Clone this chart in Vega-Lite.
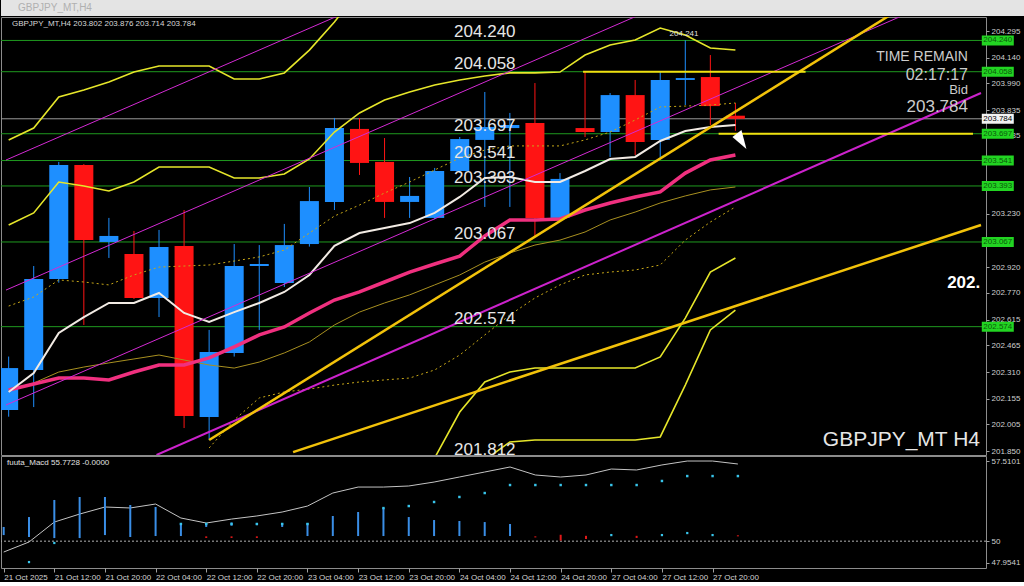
{
  "$schema": "https://vega.github.io/schema/vega-lite/v6.json",
  "background": "#000000",
  "padding": 0,
  "spacing": 1,
  "bounds": "flush",
  "config": {
    "view": {"stroke": "#8c8c8c", "strokeWidth": 1},
    "axis": {"grid": false, "domain": false, "labelColor": "#cfcfcf", "tickColor": "#a0a0a0", "labelFont": "Liberation Sans", "labelFontSize": 8, "labelOverlap": false, "labelBound": false},
    "text": {"font": "Liberation Sans"}
  },
  "datasets": {
    "candles": [
      {"i": 1, "o": 202.089, "h": 202.4, "l": 202.05, "c": 202.333},
      {"i": 2, "o": 202.322, "h": 202.927, "l": 202.106, "c": 202.851},
      {"i": 3, "o": 202.851, "h": 203.533, "l": 202.83, "c": 203.515},
      {"i": 4, "o": 203.515, "h": 203.52, "l": 202.584, "c": 203.078},
      {"i": 5, "o": 203.067, "h": 203.207, "l": 202.974, "c": 203.102},
      {"i": 6, "o": 202.997, "h": 203.131, "l": 202.735, "c": 202.741},
      {"i": 7, "o": 202.741, "h": 203.137, "l": 202.63, "c": 203.038},
      {"i": 8, "o": 203.044, "h": 203.253, "l": 201.984, "c": 202.054},
      {"i": 9, "o": 202.048, "h": 202.555, "l": 201.914, "c": 202.427},
      {"i": 10, "o": 202.421, "h": 203.055, "l": 202.4, "c": 202.927},
      {"i": 11, "o": 202.927, "h": 203.049, "l": 202.555, "c": 202.939},
      {"i": 12, "o": 202.828, "h": 203.172, "l": 202.805, "c": 203.049},
      {"i": 13, "o": 203.055, "h": 203.387, "l": 203.04, "c": 203.305},
      {"i": 14, "o": 203.3, "h": 203.789, "l": 203.253, "c": 203.73},
      {"i": 15, "o": 203.725, "h": 203.789, "l": 203.457, "c": 203.527},
      {"i": 16, "o": 203.533, "h": 203.672, "l": 203.207, "c": 203.3},
      {"i": 17, "o": 203.3, "h": 203.445, "l": 203.207, "c": 203.335},
      {"i": 18, "o": 203.207, "h": 203.498, "l": 203.2, "c": 203.48},
      {"i": 19, "o": 203.48, "h": 203.678, "l": 203.469, "c": 203.666},
      {"i": 20, "o": 203.661, "h": 203.94, "l": 203.271, "c": 203.736},
      {"i": 21, "o": 203.73, "h": 203.818, "l": 203.271, "c": 203.748},
      {"i": 22, "o": 203.76, "h": 203.992, "l": 203.096, "c": 203.207},
      {"i": 23, "o": 203.207, "h": 203.468, "l": 203.2, "c": 203.434},
      {"i": 24, "o": 203.73, "h": 204.056, "l": 203.678, "c": 203.707},
      {"i": 25, "o": 203.707, "h": 203.934, "l": 203.562, "c": 203.922},
      {"i": 26, "o": 203.922, "h": 204.01, "l": 203.573, "c": 203.649},
      {"i": 27, "o": 203.661, "h": 204.056, "l": 203.556, "c": 204.01},
      {"i": 28, "o": 204.01, "h": 204.241, "l": 203.864, "c": 204.021},
      {"i": 29, "o": 204.027, "h": 204.155, "l": 203.748, "c": 203.858},
      {"i": 30, "o": 203.802, "h": 203.876, "l": 203.714, "c": 203.784}
    ],
    "ma": [
      {"i": 1, "u2": 203.661, "u1": 203.166, "dm": 202.694, "w": 202.194, "pk": 202.205, "ol": 202.205},
      {"i": 2, "u2": 203.73, "u1": 203.236, "dm": 202.747, "w": 202.304, "pk": 202.24, "ol": 202.246},
      {"i": 3, "u2": 203.911, "u1": 203.416, "dm": 202.846, "w": 202.537, "pk": 202.275, "ol": 202.31},
      {"i": 4, "u2": 203.952, "u1": 203.393, "dm": 202.834, "w": 202.63, "pk": 202.275, "ol": 202.339},
      {"i": 5, "u2": 203.998, "u1": 203.364, "dm": 202.817, "w": 202.712, "pk": 202.264, "ol": 202.363},
      {"i": 6, "u2": 204.056, "u1": 203.416, "dm": 202.875, "w": 202.712, "pk": 202.31, "ol": 202.386},
      {"i": 7, "u2": 204.091, "u1": 203.503, "dm": 202.921, "w": 202.77, "pk": 202.351, "ol": 202.409},
      {"i": 8, "u2": 204.091, "u1": 203.503, "dm": 202.927, "w": 202.654, "pk": 202.351, "ol": 202.38},
      {"i": 9, "u2": 204.091, "u1": 203.503, "dm": 202.933, "w": 202.601, "pk": 202.392, "ol": 202.351, "dl": 201.868},
      {"i": 10, "u2": 204.016, "u1": 203.439, "dm": 202.956, "w": 202.659, "pk": 202.456, "ol": 202.333, "dl": 202.031},
      {"i": 11, "u2": 204.016, "u1": 203.439, "dm": 202.98, "w": 202.712, "pk": 202.526, "ol": 202.368, "dl": 202.159},
      {"i": 12, "u2": 204.051, "u1": 203.463, "dm": 203.02, "w": 202.776, "pk": 202.572, "ol": 202.421, "dl": 202.194},
      {"i": 13, "u2": 204.184, "u1": 203.55, "dm": 203.119, "w": 202.875, "pk": 202.654, "ol": 202.485, "dl": 202.211},
      {"i": 14, "u2": 204.347, "u1": 203.707, "dm": 203.218, "w": 203.044, "pk": 202.729, "ol": 202.584, "dl": 202.234},
      {"i": 15, "u2": 204.534, "u1": 203.818, "dm": 203.282, "w": 203.119, "pk": 202.776, "ol": 202.659, "dl": 202.252},
      {"i": 16, "u1": 203.893, "dm": 203.352, "w": 203.148, "pk": 202.834, "ol": 202.712, "dl": 202.264},
      {"i": 17, "u1": 203.94, "dm": 203.416, "w": 203.177, "pk": 202.892, "ol": 202.759, "dl": 202.275},
      {"i": 18, "u1": 203.981, "dm": 203.486, "w": 203.236, "pk": 202.939, "ol": 202.817, "dl": 202.322, "l1": 201.81},
      {"i": 19, "u1": 204.01, "dm": 203.556, "w": 203.329, "pk": 202.985, "ol": 202.875, "dl": 202.409, "l1": 202.077},
      {"i": 20, "u1": 204.033, "dm": 203.602, "w": 203.439, "pk": 203.102, "ol": 202.95, "dl": 202.526, "l1": 202.252, "l2": 201.798},
      {"i": 21, "u1": 204.051, "dm": 203.626, "w": 203.445, "pk": 203.195, "ol": 203.003, "dl": 202.642, "l1": 202.31, "l2": 201.903},
      {"i": 22, "u1": 204.051, "dm": 203.626, "w": 203.416, "pk": 203.195, "ol": 203.049, "dl": 202.741, "l1": 202.333, "l2": 201.914},
      {"i": 23, "u1": 204.056, "dm": 203.626, "w": 203.416, "pk": 203.201, "ol": 203.078, "dl": 202.817, "l1": 202.333, "l2": 201.914},
      {"i": 24, "u1": 204.155, "dm": 203.661, "w": 203.48, "pk": 203.253, "ol": 203.125, "dl": 202.875, "l1": 202.333, "l2": 201.914},
      {"i": 25, "u1": 204.214, "dm": 203.707, "w": 203.55, "pk": 203.294, "ol": 203.195, "dl": 202.892, "l1": 202.333, "l2": 201.914},
      {"i": 26, "u1": 204.243, "dm": 203.777, "w": 203.562, "pk": 203.329, "ol": 203.241, "dl": 202.904, "l1": 202.333, "l2": 201.914},
      {"i": 27, "u1": 204.312, "dm": 203.853, "w": 203.655, "pk": 203.358, "ol": 203.294, "dl": 202.933, "l1": 202.398, "l2": 201.932},
      {"i": 28, "u1": 204.272, "dm": 203.858, "w": 203.713, "pk": 203.468, "ol": 203.335, "dl": 203.078, "l1": 202.624, "l2": 202.234},
      {"i": 29, "u1": 204.196, "dm": 203.864, "w": 203.736, "pk": 203.544, "ol": 203.37, "dl": 203.183, "l1": 202.892, "l2": 202.555},
      {"i": 30, "u1": 204.184, "dm": 203.876, "w": 203.748, "pk": 203.573, "ol": 203.387, "dl": 203.271, "l1": 202.974, "l2": 202.671}
    ],
    "levels": [
      {"p": 204.24, "lab": "204.240"},
      {"p": 204.058, "lab": "204.058"},
      {"p": 203.697, "lab": "203.697"},
      {"p": 203.541, "lab": "203.541"},
      {"p": 203.393, "lab": "203.393"},
      {"p": 203.067, "lab": "203.067"},
      {"p": 202.574, "lab": "202.574"},
      {"p": 201.812, "lab": "201.812"}
    ],
    "trend": [
      {"k": "m1", "i": 0.894, "p": 203.544}, {"k": "m1", "i": 39.8, "p": 206.009},
      {"k": "m2", "i": 0.894, "p": 202.787}, {"k": "m2", "i": 39.8, "p": 205.253},
      {"k": "m3", "i": 0.894, "p": 202.118}, {"k": "m3", "i": 39.8, "p": 204.583},
      {"k": "m4", "i": 6.9, "p": 201.827}, {"k": "m4", "i": 39.8, "p": 203.934},
      {"k": "g1", "i": 9.0, "p": 201.914}, {"k": "g1", "i": 39.8, "p": 204.718},
      {"k": "g2", "i": 12.35, "p": 201.844}, {"k": "g2", "i": 39.8, "p": 203.166}
    ],
    "ysegs": [
      {"i1": 23.92, "i2": 32.8, "p": 204.058},
      {"i1": 29.33, "i2": 39.48, "p": 203.697}
    ],
    "macd": [
      {"i": 1, "ln": 48.98, "ht": 51.33, "hb": 50.57},
      {"i": 2, "ln": 49.92, "ht": 52.26, "hb": 50.39, "lc": 48.04},
      {"i": 3, "ln": 51.79, "ht": 53.86, "hb": 50.29, "lc": 49.83},
      {"i": 4, "ln": 52.54, "ht": 54.14, "hb": 50.29},
      {"i": 5, "ln": 53.2, "ht": 54.14, "hb": 50.57},
      {"i": 6, "ln": 53.11, "ht": 53.39, "hb": 50.39},
      {"i": 7, "ln": 53.48, "ht": 53.2, "hb": 50.48},
      {"i": 8, "ln": 52.17, "ht": 51.7, "hb": 50.48, "ud": 51.61},
      {"i": 9, "ln": 51.7, "ht": 51.7, "hb": 51.33, "ud": 51.61, "rt": 50.45, "rb": 50.3},
      {"i": 10, "ln": 52.07, "ht": 51.75, "hb": 51.45, "ud": 51.61, "rt": 50.45, "rb": 50.3},
      {"i": 11, "ln": 52.36, "ht": 51.7, "hb": 51.5, "ud": 51.61, "rt": 50.45, "rb": 50.3},
      {"i": 12, "ln": 52.73, "ht": 51.7, "hb": 51.33, "ud": 51.61},
      {"i": 13, "ln": 53.29, "ht": 51.7, "hb": 50.48, "ud": 51.61},
      {"i": 14, "ln": 54.51, "ht": 52.36, "hb": 50.48},
      {"i": 15, "ln": 55.07, "ht": 52.73, "hb": 50.48},
      {"i": 16, "ln": 55.07, "ht": 53.1, "hb": 50.48, "ud": 53.1},
      {"i": 17, "ln": 55.17, "ht": 52.26, "hb": 50.48, "ud": 53.29},
      {"i": 18, "ln": 55.54, "ht": 51.98, "hb": 50.48, "ud": 53.67},
      {"i": 19, "ln": 56.01, "ht": 51.89, "hb": 50.48, "ud": 54.14},
      {"i": 20, "ln": 56.48, "ht": 51.79, "hb": 50.48, "ud": 54.51},
      {"i": 21, "ln": 56.95, "ht": 51.61, "hb": 50.48, "ud": 55.26},
      {"i": 22, "ln": 56.2, "ud": 55.26, "rt": 50.45, "rb": 50.35},
      {"i": 23, "ln": 56.01, "ud": 55.26, "rt": 50.6, "rb": 50.05},
      {"i": 24, "ln": 56.2, "ud": 55.26, "rt": 50.5, "rb": 50.2},
      {"i": 25, "ln": 56.76, "ud": 55.26, "lc": 50.57},
      {"i": 26, "ln": 56.67, "ud": 55.26, "rt": 50.5, "rb": 50.3},
      {"i": 27, "ln": 57.14, "ud": 55.64, "lc": 50.57},
      {"i": 28, "ln": 57.51, "ud": 56.1, "lc": 50.76},
      {"i": 29, "ln": 57.51, "ud": 56.1, "lc": 50.57},
      {"i": 30, "ln": 57.23, "ud": 56.1, "rt": 50.55, "rb": 50.45}
    ]
  },
  "vconcat": [
    {
      "width": 1024,
      "height": 16,
      "view": {"fill": "#e4e4e4", "stroke": null},
      "data": {"values": [{}]},
      "mark": {"type": "text", "align": "left", "baseline": "middle", "fontSize": 10, "color": "#b0b0b0"},
      "encoding": {
        "x": {"datum": 17, "type": "quantitative", "scale": {"domain": [0, 1024], "nice": false}, "axis": null},
        "y": {"datum": 0.5, "type": "quantitative", "scale": {"domain": [0, 1]}, "axis": null},
        "text": {"value": "GBPJPY_MT,H4"}
      }
    },
    {
      "width": 985,
      "height": 438,
      "resolve": {"axis": {"x": "independent", "y": "independent"}},
      "layer": [
        {
          "data": {"name": "levels"},
          "mark": {"type": "rule", "color": "#1f9a1f", "strokeWidth": 1, "clip": true},
          "encoding": {
            "y": {"field": "p", "type": "quantitative", "title": null, "scale": {"domain": [201.827, 204.3765], "nice": false, "zero": false},
              "axis": {"orient": "right", "title": null, "values": [204.295, 204.14, 203.99, 203.835, 203.685, 203.23, 202.92, 202.77, 202.615, 202.465, 202.31, 202.155, 202.005, 201.85], "format": ".3f", "labelFontSize": 8, "labelColor": "#cfcfcf", "tickColor": "#a0a0a0", "tickSize": 3, "labelPadding": 2, "labelOverlap": false, "labelBound": false, "labelFlush": false, "domain": false, "grid": false}}
          }
        },
        {
          "data": {"values": [{}]},
          "mark": {"type": "rule", "color": "#9a9a9a", "strokeWidth": 1},
          "encoding": {
            "y": {"datum": 203.784, "type": "quantitative", "axis": null}
          }
        },
        {
          "data": {"name": "candles"},
          "mark": {"type": "rule", "strokeWidth": 1, "clip": true},
          "encoding": {
            "x": {"field": "i", "type": "quantitative", "scale": {"domain": [0.894, 39.8], "nice": false, "zero": false}, "axis": null},
            "y": {"field": "l", "type": "quantitative", "axis": null},
            "y2": {"field": "h"},
            "color": {"condition": {"test": "datum.c >= datum.o", "value": "#1e8fff"}, "value": "#ff1414"}
          }
        },
        {
          "data": {"name": "candles"},
          "mark": {"type": "bar", "size": 19, "minBandSize": 2, "clip": true},
          "encoding": {
            "x": {"field": "i", "type": "quantitative", "axis": null},
            "y": {"field": "o", "type": "quantitative", "axis": null},
            "y2": {"field": "c"},
            "color": {"condition": {"test": "datum.c >= datum.o", "value": "#1e8fff"}, "value": "#ff1414"}
          }
        },
        {
          "data": {"name": "ma"},
          "mark": {"type": "line", "color": "#a89020", "strokeWidth": 1, "clip": true},
          "encoding": {
            "x": {"field": "i", "type": "quantitative", "axis": null},
            "y": {"field": "ol", "type": "quantitative", "axis": null}
          }
        },
        {
          "data": {"name": "ma"},
          "mark": {"type": "line", "color": "#c8a818", "strokeWidth": 1, "strokeDash": [2, 3], "clip": true},
          "encoding": {
            "x": {"field": "i", "type": "quantitative", "axis": null},
            "y": {"field": "dm", "type": "quantitative", "axis": null}
          }
        },
        {
          "data": {"name": "ma"},
          "mark": {"type": "line", "color": "#c8a818", "strokeWidth": 1, "strokeDash": [2, 3], "clip": true},
          "encoding": {
            "x": {"field": "i", "type": "quantitative", "axis": null},
            "y": {"field": "dl", "type": "quantitative", "axis": null}
          }
        },
        {
          "data": {"name": "ma"},
          "mark": {"type": "line", "color": "#e6e62a", "strokeWidth": 1.6, "clip": true},
          "encoding": {
            "x": {"field": "i", "type": "quantitative", "axis": null},
            "y": {"field": "u2", "type": "quantitative", "axis": null}
          }
        },
        {
          "data": {"name": "ma"},
          "mark": {"type": "line", "color": "#e6e62a", "strokeWidth": 1.6, "clip": true},
          "encoding": {
            "x": {"field": "i", "type": "quantitative", "axis": null},
            "y": {"field": "u1", "type": "quantitative", "axis": null}
          }
        },
        {
          "data": {"name": "ma"},
          "mark": {"type": "line", "color": "#e6e62a", "strokeWidth": 1.6, "clip": true},
          "encoding": {
            "x": {"field": "i", "type": "quantitative", "axis": null},
            "y": {"field": "l1", "type": "quantitative", "axis": null}
          }
        },
        {
          "data": {"name": "ma"},
          "mark": {"type": "line", "color": "#e6e62a", "strokeWidth": 1.6, "clip": true},
          "encoding": {
            "x": {"field": "i", "type": "quantitative", "axis": null},
            "y": {"field": "l2", "type": "quantitative", "axis": null}
          }
        },
        {
          "data": {"name": "ma"},
          "mark": {"type": "line", "color": "#f0307f", "strokeWidth": 3.5, "clip": true},
          "encoding": {
            "x": {"field": "i", "type": "quantitative", "axis": null},
            "y": {"field": "pk", "type": "quantitative", "axis": null}
          }
        },
        {
          "data": {"name": "ma"},
          "mark": {"type": "line", "color": "#f2ebe4", "strokeWidth": 2, "clip": true},
          "encoding": {
            "x": {"field": "i", "type": "quantitative", "axis": null},
            "y": {"field": "w", "type": "quantitative", "axis": null}
          }
        },
        {
          "data": {"name": "trend"},
          "transform": [{"filter": "indexof(['m1','m2','m3'], datum.k) >= 0"}],
          "mark": {"type": "line", "color": "#d42ad4", "strokeWidth": 1, "clip": true},
          "encoding": {
            "x": {"field": "i", "type": "quantitative", "axis": null},
            "y": {"field": "p", "type": "quantitative", "axis": null},
            "detail": {"field": "k"}
          }
        },
        {
          "data": {"name": "trend"},
          "transform": [{"filter": "datum.k == 'm4'"}],
          "mark": {"type": "line", "color": "#cc22cc", "strokeWidth": 2, "clip": true},
          "encoding": {
            "x": {"field": "i", "type": "quantitative", "axis": null},
            "y": {"field": "p", "type": "quantitative", "axis": null},
            "detail": {"field": "k"}
          }
        },
        {
          "data": {"name": "trend"},
          "transform": [{"filter": "datum.k == 'g1' || datum.k == 'g2'"}],
          "mark": {"type": "line", "color": "#f2c20a", "strokeWidth": 2.5, "clip": true},
          "encoding": {
            "x": {"field": "i", "type": "quantitative", "axis": null},
            "y": {"field": "p", "type": "quantitative", "axis": null},
            "detail": {"field": "k"}
          }
        },
        {
          "data": {"name": "ysegs"},
          "mark": {"type": "rule", "color": "#f0e010", "strokeWidth": 2, "clip": true},
          "encoding": {
            "x": {"field": "i1", "type": "quantitative", "axis": null},
            "x2": {"field": "i2"},
            "y": {"field": "p", "type": "quantitative", "axis": null}
          }
        },
        {
          "data": {"name": "levels"},
          "mark": {"type": "text", "align": "center", "baseline": "alphabetic", "dy": -3, "fontSize": 17, "color": "#e6e6e6"},
          "encoding": {
            "x": {"datum": 20.0, "type": "quantitative", "axis": null},
            "y": {"field": "p", "type": "quantitative", "axis": null},
            "text": {"field": "lab"}
          }
        },
        {
          "data": {"name": "levels"},
          "transform": [{"filter": "datum.p > 201.83"}],
          "mark": {"type": "point", "shape": "M-1.6,-0.5L1.6,-0.5L1.6,0.5L-1.6,0.5Z", "size": 400, "filled": true, "opacity": 1, "color": "#22d422", "strokeWidth": 0},
          "encoding": {
            "x": {"datum": 40.47, "type": "quantitative", "axis": null},
            "y": {"field": "p", "type": "quantitative", "axis": null}
          }
        },
        {
          "data": {"name": "levels"},
          "transform": [{"filter": "datum.p > 201.83"}],
          "mark": {"type": "text", "align": "center", "baseline": "middle", "fontSize": 8, "color": "#0b5a0b"},
          "encoding": {
            "x": {"datum": 40.47, "type": "quantitative", "axis": null},
            "y": {"field": "p", "type": "quantitative", "axis": null},
            "text": {"field": "lab"}
          }
        },
        {
          "data": {"values": [{}]},
          "mark": {"type": "point", "shape": "M-1.6,-0.5L1.6,-0.5L1.6,0.5L-1.6,0.5Z", "size": 400, "filled": true, "opacity": 1, "color": "#f2f2f2", "strokeWidth": 0},
          "encoding": {
            "x": {"datum": 40.47, "type": "quantitative", "axis": null},
            "y": {"datum": 203.784, "type": "quantitative", "axis": null}
          }
        },
        {
          "data": {"values": [{}]},
          "mark": {"type": "text", "align": "center", "baseline": "middle", "fontSize": 8, "color": "#000000"},
          "encoding": {
            "x": {"datum": 40.47, "type": "quantitative", "axis": null},
            "y": {"datum": 203.784, "type": "quantitative", "axis": null},
            "text": {"value": "203.784"}
          }
        },
        {
          "data": {"values": [{}]},
          "mark": {"type": "point", "shape": "M-0.8,-0.2L0.1,-0.9L0.6,1Z", "size": 400, "filled": true, "opacity": 1, "color": "#ffffff", "strokeWidth": 0},
          "encoding": {
            "x": {"datum": 30.2, "type": "quantitative", "axis": null},
            "y": {"datum": 203.666, "type": "quantitative", "axis": null}
          }
        },
        {
          "data": {"values": [{}]},
          "mark": {"type": "text", "align": "left", "baseline": "middle", "fontSize": 8, "color": "#d8d8d8"},
          "encoding": {
            "x": {"datum": 1.131, "type": "quantitative", "axis": null},
            "y": {"datum": 204.336, "type": "quantitative", "axis": null},
            "text": {"value": "GBPJPY_MT,H4  203.802 203.876 203.714 203.784"}
          }
        },
        {
          "data": {"values": [{}]},
          "mark": {"type": "text", "align": "center", "baseline": "middle", "fontSize": 8, "color": "#e0e0e0"},
          "encoding": {
            "x": {"datum": 27.95, "type": "quantitative", "axis": null},
            "y": {"datum": 204.278, "type": "quantitative", "axis": null},
            "text": {"value": "204.241"}
          }
        },
        {
          "data": {"values": [{}]},
          "mark": {"type": "text", "align": "right", "baseline": "middle", "fontSize": 14, "color": "#cccccc"},
          "encoding": {
            "x": {"datum": 39.28, "type": "quantitative", "axis": null},
            "y": {"datum": 204.144, "type": "quantitative", "axis": null},
            "text": {"value": "TIME REMAIN"}
          }
        },
        {
          "data": {"values": [{}]},
          "mark": {"type": "text", "align": "right", "baseline": "middle", "fontSize": 16, "color": "#cccccc"},
          "encoding": {
            "x": {"datum": 39.28, "type": "quantitative", "axis": null},
            "y": {"datum": 204.039, "type": "quantitative", "axis": null},
            "text": {"value": "02:17:17"}
          }
        },
        {
          "data": {"values": [{}]},
          "mark": {"type": "text", "align": "right", "baseline": "middle", "fontSize": 13, "color": "#cccccc"},
          "encoding": {
            "x": {"datum": 39.28, "type": "quantitative", "axis": null},
            "y": {"datum": 203.952, "type": "quantitative", "axis": null},
            "text": {"value": "Bid"}
          }
        },
        {
          "data": {"values": [{}]},
          "mark": {"type": "text", "align": "right", "baseline": "middle", "fontSize": 17, "color": "#cccccc"},
          "encoding": {
            "x": {"datum": 39.28, "type": "quantitative", "axis": null},
            "y": {"datum": 203.85, "type": "quantitative", "axis": null},
            "text": {"value": "203.784"}
          }
        },
        {
          "data": {"values": [{}]},
          "mark": {"type": "text", "align": "left", "baseline": "middle", "fontSize": 17, "fontWeight": "bold", "color": "#ffffff"},
          "encoding": {
            "x": {"datum": 38.45, "type": "quantitative", "axis": null},
            "y": {"datum": 202.828, "type": "quantitative", "axis": null},
            "text": {"value": "202."}
          }
        },
        {
          "data": {"values": [{}]},
          "mark": {"type": "text", "align": "right", "baseline": "middle", "fontSize": 21, "color": "#e6e6e6"},
          "encoding": {
            "x": {"datum": 39.76, "type": "quantitative", "axis": null},
            "y": {"datum": 201.914, "type": "quantitative", "axis": null},
            "text": {"value": "GBPJPY_MT H4"}
          }
        }
      ]
    },
    {
      "width": 985,
      "height": 112,
      "resolve": {"axis": {"x": "independent", "y": "independent"}},
      "layer": [
        {
          "data": {"values": [{}]},
          "mark": {"type": "rule", "color": "#b4b4b4", "strokeWidth": 1, "strokeDash": [2, 2]},
          "encoding": {
            "y": {"datum": 50, "type": "quantitative", "title": null, "scale": {"domain": [47.485, 57.98], "nice": false, "zero": false},
              "axis": {"orient": "right", "title": null, "values": [57.5101, 50, 47.9541], "labelExpr": "datum.value == 50 ? '50' : format(datum.value, '.4f')", "labelFontSize": 8, "labelColor": "#cfcfcf", "tickColor": "#a0a0a0", "tickSize": 3, "labelPadding": 2, "labelOverlap": false, "labelBound": false, "labelFlush": false, "domain": false, "grid": false}}
          }
        },
        {
          "data": {"name": "macd"},
          "mark": {"type": "line", "color": "#c4c4c4", "strokeWidth": 1},
          "encoding": {
            "x": {"field": "i", "type": "quantitative", "title": null, "scale": {"domain": [0.894, 39.8], "nice": false, "zero": false},
              "axis": {"orient": "bottom", "title": null, "values": [1, 3, 5, 7, 9, 11, 13, 15, 17, 19, 21, 23, 25, 27, 29], "labelExpr": "['','21 Oct 2025','','21 Oct 12:00','','21 Oct 20:00','','22 Oct 04:00','','22 Oct 12:00','','22 Oct 20:00','','23 Oct 04:00','','23 Oct 12:00','','23 Oct 20:00','','24 Oct 04:00','','24 Oct 12:00','','24 Oct 20:00','','27 Oct 04:00','','27 Oct 12:00','','27 Oct 20:00',''][datum.value]", "labelAlign": "left", "labelFlush": false, "labelOverlap": false, "labelBound": false, "tickSize": 4, "labelPadding": 1, "labelFontSize": 8, "labelColor": "#d4d4d4", "tickColor": "#a0a0a0", "domain": false, "grid": false}},
            "y": {"field": "ln", "type": "quantitative", "axis": null}
          }
        },
        {
          "data": {"name": "macd"},
          "mark": {"type": "rule", "color": "#3a8ee6", "strokeWidth": 2},
          "encoding": {
            "x": {"field": "i", "type": "quantitative", "axis": null},
            "y": {"field": "ht", "type": "quantitative", "axis": null},
            "y2": {"field": "hb"}
          }
        },
        {
          "data": {"name": "macd"},
          "mark": {"type": "rule", "color": "#e01818", "strokeWidth": 2},
          "encoding": {
            "x": {"field": "i", "type": "quantitative", "axis": null},
            "y": {"field": "rt", "type": "quantitative", "axis": null},
            "y2": {"field": "rb"}
          }
        },
        {
          "data": {"name": "macd"},
          "mark": {"type": "point", "shape": "square", "size": 6, "filled": true, "opacity": 1, "color": "#38c4ea"},
          "encoding": {
            "x": {"field": "i", "type": "quantitative", "axis": null},
            "y": {"field": "ud", "type": "quantitative", "axis": null}
          }
        },
        {
          "data": {"name": "macd"},
          "mark": {"type": "point", "shape": "square", "size": 5, "filled": true, "opacity": 1, "color": "#38c4ea"},
          "encoding": {
            "x": {"field": "i", "type": "quantitative", "axis": null},
            "y": {"field": "lc", "type": "quantitative", "axis": null}
          }
        },
        {
          "data": {"values": [{}]},
          "mark": {"type": "text", "align": "left", "baseline": "middle", "fontSize": 8, "color": "#e0e0e0"},
          "encoding": {
            "x": {"datum": 1.131, "type": "quantitative", "axis": null},
            "y": {"datum": 57.32, "type": "quantitative", "axis": null},
            "text": {"value": "fuuta_Macd 55.7728  -0.0000"}
          }
        }
      ]
    }
  ]
}
